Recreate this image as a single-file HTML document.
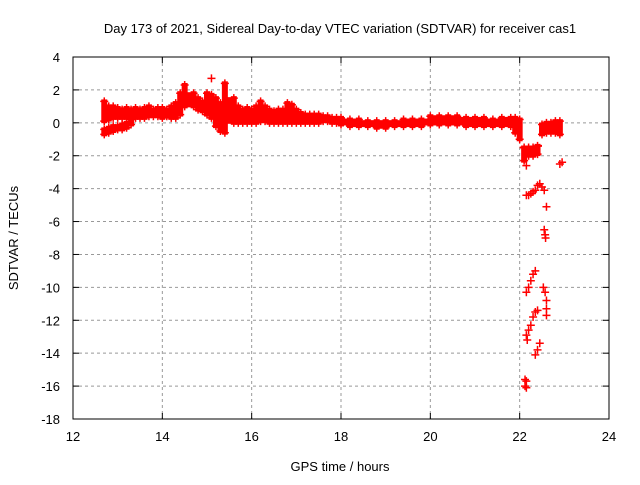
<!DOCTYPE html>
<html><head><meta charset="utf-8"><style>
body{margin:0;background:#fff}
svg text{font-family:"Liberation Sans",sans-serif;font-size:13px;fill:#000}
</style></head><body>
<svg id="chart" width="640" height="480" xmlns="http://www.w3.org/2000/svg">
<text x="340" y="33" text-anchor="middle">Day 173 of 2021, Sidereal Day-to-day VTEC variation (SDTVAR) for receiver cas1</text>
<text x="340" y="471" text-anchor="middle">GPS time / hours</text>
<text transform="translate(18,238) rotate(-90)" text-anchor="middle">SDTVAR / TECUs</text>
<g id="grid"></g>
<g id="marks"></g>
<rect x="73" y="57" width="536" height="362" fill="none" stroke="#000" stroke-width="1"/>
</svg>
<script>
const xTicks=[12,14,16,18,20,22,24];
const yTicks=[4,2,0,-2,-4,-6,-8,-10,-12,-14,-16,-18];
const bandT=[12.7,12.8,12.9,13.0,13.1,13.2,13.3,13.4,13.5,13.6,13.7,13.8,13.9,14.0,14.1,14.2,14.3,14.4,14.5,14.7,14.8,14.9,15.0,15.1,15.2,15.3,15.4,15.6,15.7,15.8,15.9,16.0,16.1,16.2,16.3,16.4,16.5,16.6,16.7,16.8,16.9,17.0,17.1,17.2,17.3,17.4,17.5,17.6,17.7,17.8,17.9,18.0,18.2,18.4,18.6,18.8,19.0,19.2,19.4,19.6,19.8,20.0,20.2,20.4,20.6,20.8,21.0,21.2,21.4,21.6,21.8,21.9,22.0,22.1,22.2,22.3,22.4,22.5,22.6,22.7,22.8,22.9];
const bandHi=[1.3,1.0,1.0,0.9,0.8,0.9,0.8,0.9,0.8,0.9,1.0,0.8,0.9,0.9,0.8,1.0,1.2,1.8,2.3,1.8,1.5,1.3,1.8,1.7,1.5,1.2,2.4,1.5,1.0,0.8,0.9,0.8,1.0,1.3,1.0,0.8,0.7,0.8,0.8,1.2,1.1,0.8,0.6,0.5,0.5,0.5,0.5,0.4,0.4,0.3,0.3,0.3,0.2,0.2,0.1,0.1,0.1,0.1,0.2,0.2,0.2,0.4,0.4,0.4,0.4,0.3,0.3,0.3,0.2,0.3,0.3,0.3,0.2,-1.5,-1.5,-1.5,-1.4,-0.1,0.0,0.0,0.1,0.1];
const bandLo=[0.1,0.2,0.3,0.3,0.3,0.3,0.4,0.3,0.3,0.3,0.4,0.4,0.4,0.3,0.4,0.3,0.3,0.5,1.0,1.0,0.8,0.7,0.5,0.3,-0.2,-0.5,-0.6,0,0,0,0,0,0,0.1,0.1,0,0,0,0,0,0,0,0,0,0,0,0,0.1,0.1,0,0,-0.1,-0.2,-0.2,-0.2,-0.3,-0.3,-0.2,-0.2,-0.2,-0.2,-0.1,-0.1,-0.1,-0.1,-0.2,-0.2,-0.2,-0.2,-0.2,-0.2,-0.6,-1.0,-2.3,-2.0,-2.0,-1.9,-0.7,-0.6,-0.6,-0.6,-0.7];
const lowT=[12.7,12.8,12.9,13.0,13.1,13.2,13.3];
const lowHi=[-0.4,-0.3,-0.2,-0.2,-0.1,0.0,0.2];
const lowLo=[-0.7,-0.6,-0.5,-0.4,-0.4,-0.3,-0.1];
const ptT=[15.1,22.9,22.95,22.15,22.15,22.2,22.25,22.3,22.35,22.4,22.45,22.5,22.55,22.6,22.55,22.57,22.58,22.15,22.2,22.25,22.3,22.35,22.53,22.57,22.6,22.6,22.6,22.15,22.2,22.25,22.3,22.35,22.4,22.17,22.35,22.4,22.45,22.12,22.15,22.12,22.15];
const ptV=[2.7,-2.5,-2.4,-2.6,-4.4,-4.4,-4.3,-4.2,-4.1,-3.8,-3.7,-3.9,-4.1,-5.1,-6.5,-6.8,-7.0,-10.3,-10.0,-9.6,-9.2,-9.0,-10.0,-10.3,-10.8,-11.3,-11.7,-12.9,-12.6,-12.3,-11.8,-11.5,-11.4,-13.2,-14.1,-13.8,-13.4,-15.6,-15.7,-16.0,-16.1];
const X=t=>73+(t-12)*536/12, Y=v=>57+(4-v)*362/22;
const NS="http://www.w3.org/2000/svg", svg=document.getElementById('chart');
const grid=document.getElementById('grid'), marks=document.getElementById('marks');
function mk(tag,a,p){const e=document.createElementNS(NS,tag);for(const k in a)e.setAttribute(k,a[k]);p.appendChild(e);return e;}
xTicks.forEach(t=>{const x=X(t);
 if(t>12&&t<24){const g=mk('line',{x1:x,x2:x,y1:57,y2:419,stroke:'#999','stroke-dasharray':'3,3'},grid);}
 mk('line',{x1:x,x2:x,y1:419,y2:413,stroke:'#000'},grid);mk('line',{x1:x,x2:x,y1:57,y2:63,stroke:'#000'},grid);
 const l=mk('text',{x:x,y:441,'text-anchor':'middle'},svg);l.textContent=t;
 
 });
yTicks.forEach(v=>{const y=Y(v);
 if(v<4&&v>-18){const g=mk('line',{x1:73,x2:609,y1:y,y2:y,stroke:'#999','stroke-dasharray':'3,3'},grid);}
 mk('line',{x1:73,x2:79,y1:y,y2:y,stroke:'#000'},grid);mk('line',{x1:609,x2:603,y1:y,y2:y,stroke:'#000'},grid);
 const l=mk('text',{x:60,y:y+5,'text-anchor':'end'},svg);l.textContent=v;
 
 });
function plus(t,v){const x=X(t),y=Y(v);
 const p=mk('path',{d:`M${x-4},${y}H${x+4}M${x},${y-4}V${y+4}`,stroke:'#f00','stroke-width':1.5,fill:'none'},marks);
 
 }
function band(T,H,L){T.forEach((t,i)=>{const x=X(t);
 const r=mk('rect',{x:x-3,y:Y(H[i])-2,width:6,height:Y(L[i])-Y(H[i])+4,fill:'#f00'},marks);
 
 
 if(i>0 && t-T[i-1]<0.25){const top=Y(Math.min(H[i],H[i-1]))-1,bot=Y(Math.max(L[i],L[i-1]))+1;
  const r2=mk('rect',{x:X(T[i-1]),y:top,width:x-X(T[i-1]),height:Math.max(2,bot-top),fill:'#f00'},marks);
  
  }
 plus(t,H[i]);plus(t,L[i]);});}
band(bandT,bandHi,bandLo);
band(lowT,lowHi,lowLo);
ptT.forEach((t,i)=>plus(t,ptV[i]));
</script>
</body></html>
